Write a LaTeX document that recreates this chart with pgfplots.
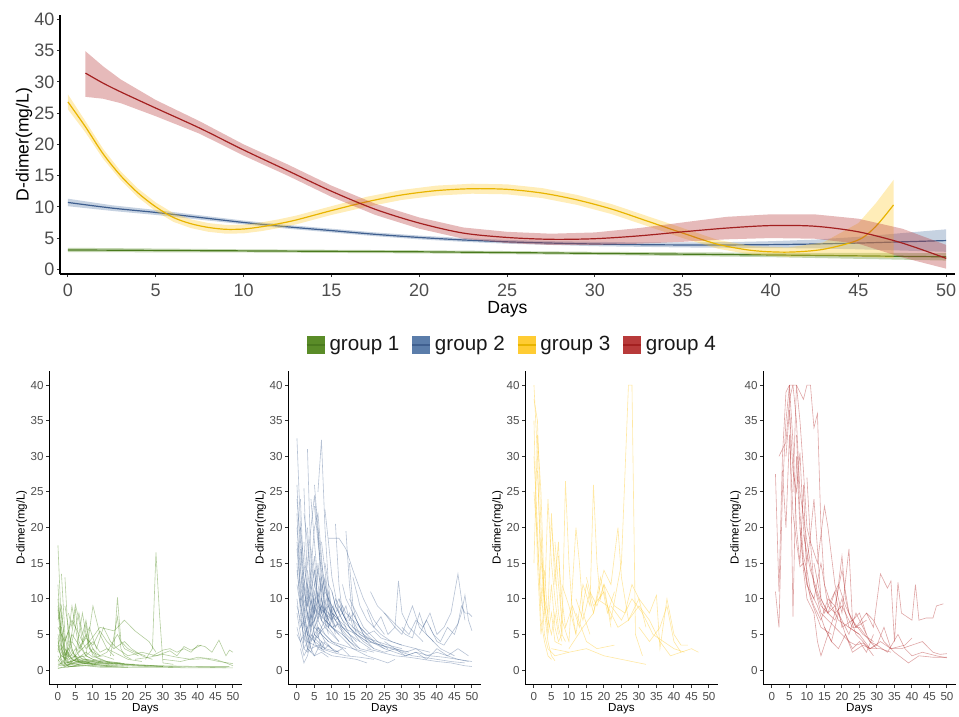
\documentclass[border=0pt]{standalone}
\usepackage{fontspec}
\setmainfont{Liberation Sans}
\usepackage{xcolor}
\usepackage{pgfplots}
\pgfplotsset{compat=1.18}

\definecolor{c1}{HTML}{5A8C28}
\definecolor{c1line}{HTML}{4A7A1E}
\definecolor{c1thin}{HTML}{4E8A1C}
\definecolor{c2}{HTML}{5B7DAA}
\definecolor{c2line}{HTML}{3F5F8F}
\definecolor{c3}{HTML}{FFCC33}
\definecolor{c3line}{HTML}{E8B400}
\definecolor{c4}{HTML}{B83A3A}
\definecolor{c4line}{HTML}{A32020}
\definecolor{tickgray}{HTML}{4D4D4D}

\pgfplotsset{
  gg/.style={
    scale only axis,
    axis lines*=left,
    axis line style={black, line width=0.55pt},
    tick align=outside,
    tick style={black!80, line width=0.5pt},
    major tick length=1.6pt,
    tick label style={text=tickgray},
    yticklabel style={inner sep=1pt},
    /pgf/number format/assume math mode=true,
    clip=true,
  },
  panel/.style={
    gg,
    width=96.25pt, height=156.75pt,
    anchor=north west,
    xmin=-2.5, xmax=52.5, ymin=-2, ymax=42,
    xtick={0,5,...,50}, ytick={0,5,...,40},
    ticklabel style={font=\fontsize{5.8}{6}\selectfont},
    xticklabel style={yshift=1pt},
    xlabel={Days}, ylabel={D-dimer(mg/L)},
    label style={font=\fontsize{5.8}{6.5}\selectfont},
    xlabel style={yshift=5.5pt},
    ylabel style={yshift=-2.7pt},
  },
  s1/.style={c1thin, line width=0.3pt, draw opacity=0.42, forget plot},
  s2/.style={c2line, line width=0.3pt, draw opacity=0.38, forget plot},
  s3/.style={c3, line width=0.3pt, draw opacity=0.45, forget plot},
  s4/.style={c4, line width=0.3pt, draw opacity=0.45, forget plot},
  band/.style={draw=none, fill=#1, fill opacity=0.35, forget plot},
  fit/.style={#1, line width=0.6pt, smooth, forget plot},
}

\begin{document}
\begin{tikzpicture}
\path[use as bounding box] (0,0) rectangle (479.5pt,-358.5pt);

% ---------- top panel: smoothed trends ----------
\begin{axis}[
  gg, at={(30pt,-7.5pt)}, anchor=north west,
  width=447.5pt, height=129.5pt,
  xmin=-0.45, xmax=50.5, ymin=-0.75, ymax=40.7,
  xtick={0,5,...,50}, ytick={0,5,...,40},
  ticklabel style={font=\fontsize{9}{10}\selectfont},
  xlabel={Days}, ylabel={D-dimer(mg/L)},
  label style={font=\fontsize{8.8}{10}\selectfont},
  xlabel style={yshift=4.5pt},
  ylabel style={yshift=-3.5pt},
  legend style={at={(0.506,-0.273)}, anchor=center, draw=none,
    font=\fontsize{10.3}{12}\selectfont, text=black!90,
    /tikz/every even column/.append style={column sep=4pt}},
  legend columns=4,
  legend image code/.code={
    \fill[#1,draw=none] (0pt,-4.5pt) rectangle (9pt,4.5pt);
    \draw[#1,fill=none] (0pt,0pt) -- (9pt,0pt);},
]
% group 1
\addplot[band=c1] coordinates {(0,3.45)(10,3.2)(20,3.05)(30,2.8)(40,2.65)(50,2.6)
  (50,1.4)(40,1.95)(30,2.3)(20,2.55)(10,2.7)(0,2.75)} -- cycle;
\addplot[fit=c1line] coordinates {(0,3.1)(10,2.95)(20,2.8)(30,2.55)(40,2.3)(50,2.0)};
% group 2
\addplot[band=c2] coordinates {(0,11.3)(2.5,10.25)(5,9.5)(7.5,8.65)(10,7.8)(12.5,7.1)(15,6.5)(17.5,5.9)(20,5.4)(22.5,5.0)(25,4.7)(27.5,4.5)(30,4.4)(32.5,4.3)(35,4.3)(37.5,4.35)(40,4.5)(42.5,4.75)(45,5.2)(47.5,5.8)(50,6.4)
  (50,2.8)(47.5,3.0)(45,3.2)(42.5,3.35)(40,3.4)(37.5,3.45)(35,3.5)(32.5,3.6)(30,3.7)(27.5,3.9)(25,4.1)(22.5,4.4)(20,4.8)(17.5,5.3)(15,5.9)(12.5,6.5)(10,7.2)(7.5,7.95)(5,8.7)(2.5,9.35)(0,10.1)} -- cycle;
\addplot[fit=c2line] coordinates {(0,10.7)(2.5,9.8)(5,9.1)(7.5,8.3)(10,7.5)(12.5,6.8)(15,6.2)(17.5,5.6)(20,5.1)(22.5,4.7)(25,4.4)(27.5,4.2)(30,4.05)(32.5,3.95)(35,3.9)(37.5,3.9)(40,3.95)(42.5,4.05)(45,4.2)(47.5,4.4)(50,4.6)};
% group 3
\addplot[band=c3] coordinates {(0,28.0)(1,23.7)(2,19.3)(3,15.7)(4,12.9)(5,10.7)(6,9.0)(7,8.0)(8,7.4)(9,7.1)(10,7.15)(11,7.5)(12,8.0)(13,8.6)(15,10.1)(17,11.6)(19,12.7)(21,13.4)(23,13.7)(25,13.6)(27,13.0)(29,11.9)(31,10.4)(33,8.5)(35,6.6)(37,4.7)(39,3.7)(41,3.5)(43,4.3)(45,7.4)(46,10.6)(47,14.3)
  (47,1.8)(46,1.9)(45,2.0)(43,2.1)(41,2.0)(39,2.3)(37,3.3)(35,5.0)(33,6.9)(31,8.8)(29,10.3)(27,11.4)(25,12.0)(23,12.1)(21,11.8)(19,11.1)(17,10.0)(15,8.7)(13,7.2)(12,6.6)(11,6.1)(10,5.75)(9,5.7)(8,6.0)(7,6.6)(6,7.6)(5,9.3)(4,11.5)(3,14.3)(2,17.7)(1,21.9)(0,25.6)} -- cycle;
\addplot[fit=c3line] coordinates {(0,26.8)(1,22.8)(2,18.5)(3,15.0)(4,12.2)(5,10.0)(6,8.3)(7,7.3)(8,6.7)(9,6.4)(10,6.45)(11,6.8)(12,7.3)(13,7.9)(15,9.4)(17,10.8)(19,11.9)(21,12.6)(23,12.9)(25,12.8)(27,12.2)(29,11.1)(31,9.6)(33,7.7)(35,5.8)(37,4.0)(39,3.0)(41,2.75)(43,3.2)(45,4.7)(46,6.9)(47,10.3)};
% group 4
\addplot[band=c4] coordinates {(1,34.9)(2,32.5)(3,30.4)(5,27.1)(7.5,23.7)(10,20.0)(12.5,16.8)(15,13.4)(17.5,10.5)(20,8.3)(22.5,6.7)(25,6.0)(27.5,5.7)(30,5.9)(32.5,6.6)(35,7.5)(37.5,8.4)(40,8.8)(42.5,8.8)(45,8.1)(47.5,6.5)(50,3.9)
  (50,0.1)(47.5,1.9)(45,4.1)(42.5,4.9)(40,5.0)(37.5,4.8)(35,4.4)(32.5,4.1)(30,3.9)(27.5,3.9)(25,4.2)(22.5,4.9)(20,6.5)(17.5,8.7)(15,11.6)(12.5,15.0)(10,18.2)(7.5,21.7)(5,24.5)(3,26.6)(2,27.3)(1,27.6)} -- cycle;
\addplot[fit=c4line] coordinates {(1,31.4)(2,29.8)(3,28.4)(5,25.8)(7.5,22.6)(10,19.1)(12.5,15.8)(15,12.5)(17.5,9.6)(20,7.4)(22.5,5.8)(25,5.1)(27.5,4.8)(30,4.9)(32.5,5.35)(35,6.0)(37.5,6.6)(40,7.0)(42.5,6.9)(45,6.0)(47.5,4.2)(50,1.75)};
% legend
\addlegendimage{fill=c1, draw=c1line, line width=0.8pt}\addlegendentry{group 1}
\addlegendimage{fill=c2, draw=c2line, line width=0.8pt}\addlegendentry{group 2}
\addlegendimage{fill=c3, draw=c3line, line width=0.8pt}\addlegendentry{group 3}
\addlegendimage{fill=c4, draw=c4line, line width=0.8pt}\addlegendentry{group 4}
\end{axis}

% ---------- group 1 ----------
\begin{axis}[panel, at={(24.6pt,-185.4pt)}]
\addplot[s1] coordinates {(0,17.5)(1,6)(2,3)(4,1.5)(7,1)(10,0.8)};
\addplot[s1] coordinates {(1,13.5)(2,5)(3,2)(5,1.2)(8,0.9)(14,0.6)};
\addplot[s1] coordinates {(2,13)(3,4)(4,2.5)(6,1.5)(9,1)};
\addplot[s1] coordinates {(0,10)(1,4)(2,1)(3,0.5)(5,0.5)(8,0.6)(12,0.4)(20,0.4)};
\addplot[s1] coordinates {(0,8.5)(1,3)(2,0.8)(4,0.5)(6,0.6)};
\addplot[s1] coordinates {(0,0.5)(1,1)(3,2)(5,8.5)(6,4)(8,2)(10,1.5)(13,1)};
\addplot[s1] coordinates {(0,1)(2,0.8)(4,9)(5,6)(6,3)(8,5)(10,2)(12,1.5)(15,1)(20,0.8)(25,0.7)(30,0.5)};
\addplot[s1] coordinates {(0,3)(1,2)(3,1.5)(5,2)(7,8)(8,5)(9,3)(11,1.8)(14,1.2)(18,1)};
\addplot[s1] coordinates {(0,0.2)(2,0.5)(4,1)(6,1.3)(8,1.5)(12,1.2)(16,1)(20,0.8)(26,0.6)(32,0.5)(40,0.4)(50,0.3)};
\addplot[s1] coordinates {(0,0.3)(3,0.4)(6,0.8)(10,1)(15,0.9)(22,0.7)(30,0.6)(40,0.5)(49,0.5)};
\addplot[s1] coordinates {(1,5)(2,2)(4,4)(6,2.5)(9,6)(11,3)(13,6)(15,4)(17,3)(20,2)};
\addplot[s1] coordinates {(0,6)(2,4)(4,7)(6,5)(8,3)(10,4)(12,2.5)(14,3)(16,2)};
\addplot[s1] coordinates {(2,2)(4,5)(6,3.5)(8,2)(10,9)(12,5)(14,3)(16,2.5)(18,2)(20,1.5)(24,1.2)};
\addplot[s1] coordinates {(5,2)(7,3)(9,4)(12,6)(16,5.5)(19,7)(22,5.5)(26,4)(28,2.5)};
\addplot[s1] coordinates {(16,3)(17,10.2)(18,4)(20,3)(22,2.5)(25,2)};
\addplot[s1] coordinates {(15,2)(17,7.5)(18,3)(19,2)(21,1.5)};
\addplot[s1] coordinates {(25,1.5)(27,3)(28,16.5)(29,8)(30,1)(33,0.8)};
\addplot[s1] coordinates {(27,2)(30,2.8)(32,3)(34,2.5)(36,3)(38,2.5)(40,3.5)(42,3.3)(44,2.5)(46,4.2)(48,2)(49,2.8)(50,2.5)};
\addplot[s1] coordinates {(20,2)(24,2.5)(28,2)(32,2.7)(34,2)(36,3.3)(38,2.8)(41,3.5)};
\addplot[s1] coordinates {(22,1.5)(26,1.8)(30,2.2)(34,1.8)(38,1.5)(42,1.6)(46,1.2)(50,0.9)};
\addplot[s1] coordinates {(30,1.5)(35,1.2)(40,1.8)(45,1.5)(48,1)(50,0.6)};
\addplot[s1] coordinates {(0,4)(1,2.5)(2,1.5)(3,3)(4,2)(6,1.8)(8,2.5)(10,1.8)(13,2)(16,1.5)};
\addplot[s1] coordinates {(0,2.5)(1,8)(2,4)(3,5.5)(4,3)(5,1.5)(7,2)(9,1)};
\addplot[s1] coordinates {(0,7)(1,9)(2,3)(3,1.8)(4,1)(6,0.7)(9,0.6)(14,0.5)(20,0.4)};
\addplot[s1] coordinates {(3,8)(4,6)(5,9.2)(6,7)(7,4)(8,6.5)(9,3)(10,2.5)(12,2)};
\addplot[s1] coordinates {(0,1.5)(1,0.8)(2,0.6)(3,0.5)(5,0.6)(8,0.7)(11,0.6)(15,0.5)(20,0.4)(28,0.4)(38,0.3)(48,0.3)};
\addplot[s1] coordinates {(0,3.5)(1,1.5)(2,1)(4,1.2)(6,1.8)(8,2)(10,1.5)(14,1.2)(19,0.9)};
\addplot[s1] coordinates {(6,3)(8,4.5)(10,3.5)(12,5.5)(14,4)(16,3)(19,4)(21,3)(24,2)(27,1.5)};
\addplot[s1] coordinates {(8,2)(10,3)(12,2)(14,2.5)(17,5)(19,3)(21,2.5)(23,2)};
\addplot[s1] coordinates {(1,6)(2,2)(3,1)(4,0.8)(6,1)(8,0.9)};
\addplot[s1] coordinates {(0,5)(1,3)(2,2)(3,2.5)(4,1.5)(5,2)(6,1)(8,1.2)(10,0.8)(13,0.7)(17,0.6)};
\addplot[s1] coordinates {(4,4)(5,6)(6,8)(7,5)(8,7)(9,4)(10,3)(11,2)};
\addplot[s1] coordinates {(0,9)(1,5)(2,2.5)(3,1.2)(4,0.9)(5,1.1)(7,1.3)(9,1.2)(12,1)};
\addplot[s1] coordinates {(0,12)(1,3)(2,1.5)(3,0.8)(5,0.7)(7,0.9)(10,0.8)(15,0.6)};
\addplot[s1] coordinates {(0,0.8)(1,0.6)(2,0.7)(4,0.9)(6,1.1)(8,1.3)(10,1.2)(13,1)(16,0.9)(20,0.7)(25,0.6)(30,0.5)};
\addplot[s1] coordinates {(0,2)(1,1.2)(2,0.9)(3,1.1)(5,1.4)(7,1.6)(9,1.4)(12,1.2)(15,1)(18,0.9)(22,0.8)};
\addplot[s1] coordinates {(0,1.2)(1,2)(2,1.6)(3,1)(4,1.4)(6,1.2)(9,1)(12,0.9)(16,0.7)(20,0.6)(25,0.5)(35,0.4)};
\addplot[s1] coordinates {(0,4.5)(1,1)(2,0.5)(3,0.7)(4,1.2)(5,1.5)(6,1.3)(8,1.1)(11,0.9)};
\addplot[s1] coordinates {(1,3.5)(2,2.5)(3,1.8)(4,2.2)(5,3)(6,2)(7,1.5)(9,1.3)(11,1.1)(14,0.9)(17,0.8)};
\addplot[s1] coordinates {(2,9)(3,6)(4,3)(5,1.8)(6,1.2)(8,1)(10,0.9)};
\end{axis}

% ---------- group 2 ----------
\begin{axis}[panel, at={(144.1pt,-185.4pt)}]
\addplot[s2] coordinates {(0,32.5)(1,20)(2,8)(3,5)(5,4)(8,3)(12,2.5)};
\addplot[s2] coordinates {(0,26)(1,15)(2,6)(3,4)(4,8)(5,5)(7,4)(10,3)};
\addplot[s2] coordinates {(3,31)(4,15)(5,8)(6,6)(8,5)(10,4)(13,3)};
\addplot[s2] coordinates {(6,25)(7,32.3)(8,20)(9,12)(10,8)(12,6)(15,4)};
\addplot[s2] coordinates {(5,26)(6,20)(7,10)(8,7)(10,6)(13,5)(17,3)};
\addplot[s2] coordinates {(0,22)(1,10)(2,3)(3,2.5)(4,5)(6,4)(8,3)};
\addplot[s2] coordinates {(2,25.5)(3,12)(4,6)(5,9)(7,7)(9,6)(12,4)};
\addplot[s2] coordinates {(4,24)(5,18)(6,12)(7,9)(9,8)(11,7)(14,5)(18,3)};
\addplot[s2] coordinates {(8,22.5)(9,18)(10,13)(12,8)(14,6)(16,4)};
\addplot[s2] coordinates {(11,20.5)(12,12)(13,8)(15,6)(18,4)(21,3)};
\addplot[s2] coordinates {(14,19.5)(15,12)(16,7)(17,5)(20,4)};
\addplot[s2] coordinates {(9,18.5)(12,18.5)(14,17)(16,14)(19,10)(22,7)(25,5)};
\addplot[s2] coordinates {(0,18)(1,12)(2,9)(3,5)(4,3)(6,3.5)(8,2.5)};
\addplot[s2] coordinates {(0,15)(1,8)(2,4)(3,6)(4,8)(5,5)(6,6)(8,4)};
\addplot[s2] coordinates {(1,24)(2,12)(3,7)(4,10)(5,8)(6,15)(7,10)(8,8)};
\addplot[s2] coordinates {(3,20)(4,12)(5,16)(6,9)(7,12)(8,8)(9,7)(10,9)(12,7)};
\addplot[s2] coordinates {(0,10)(1,6)(2,7)(3,5)(4,9)(5,7)(6,8)(8,7)(10,6)(12,6.5)(15,5)(18,4)};
\addplot[s2] coordinates {(2,18)(3,10)(4,14)(5,20)(6,22)(7,16)(8,10)(9,8)};
\addplot[s2] coordinates {(0,8)(1,5)(2,3)(3,4)(5,3.5)(7,3)(10,2.5)(14,2)(18,1.8)(22,1.5)};
\addplot[s2] coordinates {(5,14)(6,10)(7,8)(8,12)(9,9)(10,7)(11,8)(13,6)(15,5)(17,4)};
\addplot[s2] coordinates {(15,10)(17,8)(19,6)(21,5)(23,4)(26,3.5)(30,3)};
\addplot[s2] coordinates {(16,13)(18,9)(20,7)(22,6)(24,5)(27,4)(30,3.5)(34,3)(38,2.5)};
\addplot[s2] coordinates {(20,8.5)(22,6)(24,7.5)(26,5)(28,6)(29,12.5)(30,8)(32,6)(34,5)(36,4)};
\addplot[s2] coordinates {(21,11)(23,9)(25,8)(27,7)(29,6)(31,5)(33,4.5)(35,8)(37,5)(39,4)};
\addplot[s2] coordinates {(25,8)(28,6)(30,5)(33,9)(35,6)(37,5)(39,4)(41,3)(43,2.5)(45,2)};
\addplot[s2] coordinates {(30,6)(32,5)(34,7)(36,6)(38,8)(40,5)(42,6)(44,8)(46,13.5)(47,10)(48,7)};
\addplot[s2] coordinates {(35,5)(37,7)(39,5)(41,4)(43,6)(45,5)(47,8)(48,10.5)(49,7)(50,5.5)};
\addplot[s2] coordinates {(38,6)(40,4)(42,3.5)(44,5)(46,6.5)(47,9)(48,8)(49,8)(50,7.5)};
\addplot[s2] coordinates {(20,3)(24,2.5)(28,2)(32,1.8)(36,1.5)(40,1.2)(44,1)(48,0.6)(50,0.5)};
\addplot[s2] coordinates {(25,4)(28,3)(31,2.5)(34,3)(37,2)(40,2.5)(43,2)(46,1.5)(49,1.2)};
\addplot[s2] coordinates {(18,6)(20,4)(22,3)(25,2.5)(28,3)(31,2)(34,2.5)(37,1.5)(40,3)(43,2)(46,3)(49,2)};
\addplot[s2] coordinates {(10,6)(12,5)(14,4)(16,3)(18,2.5)(20,2)(23,1.5)(26,1)(28,1.5)};
\addplot[s2] coordinates {(3,5)(4,3)(5,2)(6,3)(8,2.5)(10,2)(13,1.8)(17,1.5)(20,1)};
\addplot[s2] coordinates {(0,12)(1,9)(2,7)(3,10)(4,7)(5,11)(6,8)(7,9)(9,7)};
\addplot[s2] coordinates {(7,18)(8,14)(9,10)(10,7)(11,6)(12,7)(13,5)(15,4)(18,3)(22,2.5)};
\addplot[s2] coordinates {(12,10)(14,8)(16,7)(18,5)(21,4)(24,3.5)(27,3)(30,2.5)(33,2)(36,1.8)(40,1.5)(44,1.2)(48,1)};
\addplot[s2] coordinates {(1,3)(2,1)(3,2)(4,4)(5,6)(7,5)(9,4)};
\addplot[s2] coordinates {(6,10)(7,7)(8,9)(9,6)(10,8)(11,7)(13,8)(15,6)(17,5)(19,4)(22,3)};
\addplot[s2] coordinates {(2,22)(3,18)(4,11)(5,14)(6,9)(8,8)(10,7)};
\addplot[s2] coordinates {(4,17)(5,12)(6,14)(7,11)(8,13)(9,9)(10,8)(12,7)};
\addplot[s2] coordinates {(15,15)(16,9)(17,7)(19,5)(21,4)(23,3.5)(25,3)};
\addplot[s2] coordinates {(0,5)(1,4)(2,2)(3,3)(5,2)(7,2.5)(9,1.8)};
\addplot[s2] coordinates {(0,20)(1,14)(2,10)(3,8)(4,6)(5,7)(6,5)(8,6)(10,5)(12,4)};
\addplot[s2] coordinates {(1,17)(2,11)(3,9)(4,12)(5,9)(6,11)(7,8)(9,9)(11,6)};
\addplot[s2] coordinates {(0,14)(1,10)(2,6)(3,8)(4,5)(5,4)(6,6)(7,5)(9,4)(11,3.5)(14,3)};
\addplot[s2] coordinates {(1,20)(2,15)(3,11)(4,9)(5,12)(6,10)(7,13)(8,9)(9,11)(10,8)(12,7)(14,6)};
\addplot[s2] coordinates {(0,9)(1,7)(2,5)(3,6)(4,4)(5,5)(6,4.5)(7,6)(8,5)(10,4)(13,3.5)(16,3)(20,2.5)};
\addplot[s2] coordinates {(3,14)(4,10)(5,7)(6,9)(7,7)(8,6)(9,8)(10,7)(11,9)(12,8)(13,7)(15,6)(17,5)};
\addplot[s2] coordinates {(5,23)(6,18)(7,14)(8,11)(9,10)(10,9)(11,8)(12,9)(14,7)(16,6)(19,5)(22,4)};
\addplot[s2] coordinates {(2,12)(3,15)(4,20)(5,24.5)(6,19)(7,13)(8,9)(9,7)(10,6)};
\addplot[s2] coordinates {(0,6)(1,4)(2,5)(3,3)(4,6)(5,4)(6,5)(7,3)(8,4)(10,3)(12,2.5)};
\addplot[s2] coordinates {(8,15)(9,12)(10,11)(11,9)(12,8)(13,9)(14,7)(15,8)(16,6)(18,5)(20,4.5)(23,4)(26,3)};
\addplot[s2] coordinates {(0,17)(1,11)(2,8)(3,12)(4,9)(5,6)(6,7)(7,6)(8,7)(9,5)};
\addplot[s2] coordinates {(4,8)(5,10)(6,7)(7,9)(8,7)(9,10)(10,8)(11,10)(12,9)(13,8)(14,9)(15,7)(16,8)(18,6)};
\addplot[s2] coordinates {(6,20)(7,15)(8,12)(9,10)(10,9)(11,8)(12,7)(13,6)(15,5.5)(17,5)(20,4)(24,3.5)(28,3)(32,2.5)};
\addplot[s2] coordinates {(1,9)(2,12)(3,8)(4,6)(5,9)(6,7)(7,10)(8,8)(9,6)(10,7)(11,5)};
\addplot[s2] coordinates {(0,24)(1,18)(2,13)(3,9)(4,11)(5,8)(6,10)(7,8)(8,7)(10,6)(12,5)};
\addplot[s2] coordinates {(13,12)(14,10)(15,9)(16,8)(17,7)(18,6)(20,5)(22,4)(25,3)(28,2.5)(31,2)(34,2.5)(38,2)(42,1.8)(46,1.5)(50,1.2)};
\addplot[s2] coordinates {(2,7)(3,3)(4,2.5)(5,4)(6,3)(7,4)(8,3)(9,3.5)(11,2.5)(13,3)(15,2)};
\addplot[s2] coordinates {(10,11)(11,9)(12,10)(13,8)(14,7)(16,7)(18,6)(20,5)(22,5.5)(24,4.5)(27,4)(30,3.5)};
\end{axis}

% ---------- group 3 ----------
\begin{axis}[panel, at={(262.6pt,-185.4pt)}]
\addplot[s3] coordinates {(0,40)(1,30)(2,12)(3,5)(4,3)(6,2)(10,2.5)};
\addplot[s3] coordinates {(0,38)(1,35)(2,20)(3,8)(4,4)(5,2)(6,1.3)};
\addplot[s3] coordinates {(0,15)(1,33)(2,25)(3,10)(4,5)(5,8)(6,4)(8,3.5)};
\addplot[s3] coordinates {(1,28)(2,16)(3,9)(4,24)(5,15)(6,10)(7,6)(8,4)};
\addplot[s3] coordinates {(0,30)(1,20)(2,7)(3,4)(4,2)(5,1.5)};
\addplot[s3] coordinates {(2,18)(3,10)(4,8)(5,22)(6,12)(7,18)(8,5)(9,4)};
\addplot[s3] coordinates {(5,20)(6,15)(7,8)(8,5)(9,26.5)(10,15)(11,8)(12,5)};
\addplot[s3] coordinates {(6,18)(7,12)(8,7)(10,4)(12,20)(13,15)(14,8)(16,5)};
\addplot[s3] coordinates {(8,12)(10,9)(12,5)(14,12)(16,9)(17,26)(18,15)(19,10)(20,12)(22,6)};
\addplot[s3] coordinates {(10,3)(14,6)(17,8)(20,14)(22,12)(24,20)(25,13)(27,7)(30,10)(32,6)};
\addplot[s3] coordinates {(15,13)(17,9)(20,11)(22,7)(25,15)(27,40)(28,40)(29,5)(31,2)};
\addplot[s3] coordinates {(12,10)(14,7)(16,11)(18,9)(20,12)(23,9)(26,8)(28,12)(30,10)(33,8)(35,10.5)(36,3)(38,10)(40,5)(42,3.5)(44,3.5)};
\addplot[s3] coordinates {(18,10)(21,9)(24,6)(27,7)(30,9)(33,7)(36,4)(39,2)(42,2.5)(45,3)(47,2.5)};
\addplot[s3] coordinates {(5,3)(10,2.5)(15,3)(20,2)(25,1.5)(32,0.8)};
\addplot[s3] coordinates {(12,8)(15,4)(18,3)(23,3.5)};
\addplot[s3] coordinates {(22,9)(25,7)(28,10)(31,8)(34,5)(37,4)(40,3)(43,2.5)};
\addplot[s3] coordinates {(30,6)(33,4)(36,6)(38,9)(40,4)(42,2.5)};
\addplot[s3] coordinates {(0,35)(1,15)(2,5)(3,9)(4,6)(5,12)(6,6)(7,4)(8,5)};
\addplot[s3] coordinates {(0,25)(1,18)(2,9)(3,14)(4,7)(5,5)(6,8)(7,5)};
\addplot[s3] coordinates {(7,16)(8,10)(9,6)(11,9)(13,6)(15,12)(17,8)(19,13)(21,8)(23,11)};
\end{axis}

% ---------- group 4 ----------
\begin{axis}[panel, at={(381.6pt,-185.4pt)}]
\addplot[s4] coordinates {(1,27.5)(2,11)(3,30)(4,39)(5,40)(6,40)(7,35)(8,25)(10,18)(12,12)(14,9)(16,8)(18,7)(20,10)(22,6)(25,5)};
\addplot[s4] coordinates {(1,11)(2,6)(3,25)(4,35)(5,40)(6,7.5)(7,30)(8,20)(9,15)(11,10)(14,6)(17,5)};
\addplot[s4] coordinates {(2,30)(4,32)(5,38)(6,40)(7,40)(9,38)(10,40)(11,40)(12,34)(13,36)(14,20)(15,12)(17,9)(19,7)(22,6)(25,5)(28,3)(31,3)(34,2.5)};
\addplot[s4] coordinates {(4,30)(5,36.5)(6,28)(7,25)(8,30.5)(9,20)(10,15)(11,19)(12,24)(14,10)(16,8)(18,11)(20,6)(23,7)(26,5)(29,4)};
\addplot[s4] coordinates {(5,40)(6,32)(7,20)(8,15)(9,26)(10,12)(12,10)(14,15)(16,9)(18,8)(20,16)(21,10)(22,8)(24,6)(27,7)};
\addplot[s4] coordinates {(6,25)(7,40)(8,35)(9,28)(10,20)(11,18)(13,15)(15,23)(16,20)(18,12)(20,8)(22,17)(23,7)(25,8)(27,5)};
\addplot[s4] coordinates {(8,20)(9,14)(10,10)(12,8)(13,4)(14,2)(16,5)(18,8)(20,9)(23,6)(25,6)(28,4)(30,3)};
\addplot[s4] coordinates {(9,19)(11,14)(13,11)(15,8)(17,10)(19,12)(21,9)(24,6)(27,8)(29,7)(32,4)(35,2.5)(39,1)(42,2)(46,1.8)(50,1.8)};
\addplot[s4] coordinates {(10,27)(11,18)(12,12)(14,8)(16,7)(18,6)(20,5)(22,4)(24,3.5)(26,3.8)(28,3)(31,4)(34,3)(38,3.5)(40,4.5)};
\addplot[s4] coordinates {(27,8)(29,6)(31,13.5)(33,11.5)(34,12.5)(35,4)(36,12.3)(37,8)(40,7)(41,12)(42,7)(44,7.3)(46,7.3)(47,9)(49,9.3)};
\addplot[s4] coordinates {(12,15)(14,10)(16,8)(18,9)(20,7)(22,5)(24,8)(26,6)(28,4)(30,3.5)(32,6)(34,3)(37,3)(40,3.5)(43,4)(46,2.5)(48,2.2)(50,2.3)};
\addplot[s4] coordinates {(7,33)(8,22)(9,16)(10,14)(11,11)(13,9)(15,6)(17,4)(19,8)(21,5)(23,3)(25,4)(27,2.5)(29,5)};
\addplot[s4] coordinates {(3,28)(4,20)(5,33)(6,22)(7,18)(8,14.5)(9,15)(10,12)(12,9)(14,7)(16,10)(18,9)(20,14)(22,8)(24,5)(26,4)(29,2)};
\addplot[s4] coordinates {(15,6)(17,4)(19,3)(21,5)(23,2.5)(26,3.5)(28,3)(30,3.5)(33,2.5)(36,5)(38,3)(40,2)(43,2.5)(47,2)(50,1.7)};
\end{axis}
\end{tikzpicture}
\end{document}
